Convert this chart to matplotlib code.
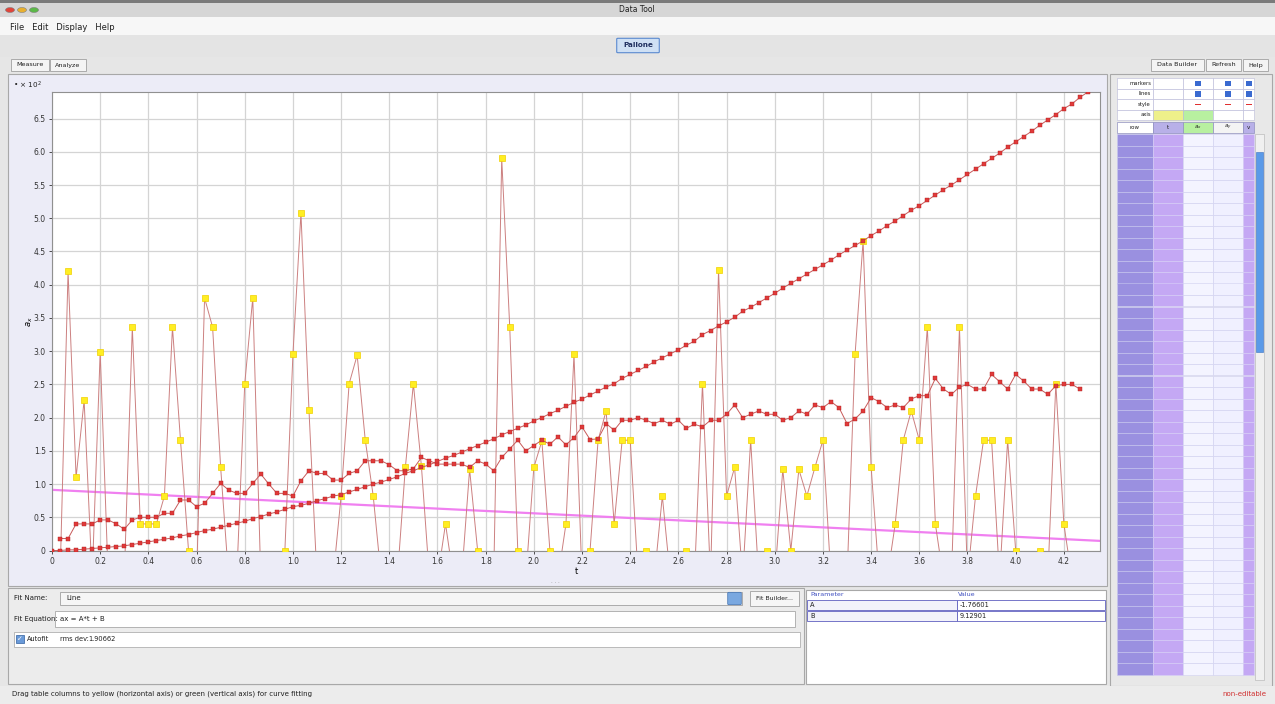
import numpy as np
import matplotlib
matplotlib.use("Agg")
import matplotlib.pyplot as plt
from matplotlib.patches import Rectangle, Circle, FancyBboxPatch

# ---------------- data ----------------
frame_rate = 30.0

# spiky raw series (yellow markers), frames 1..127
raw_start = 1
raw_vals = [-0.42, 4.20, 1.10, 2.26, -0.42, 2.99, -0.42, -0.42, -0.42, 3.36,
            0.40, 0.40, 0.40, 0.82, 3.36, 1.66, 0.00, -0.42, 3.80, 3.36,
            1.25, -0.42, -0.42, 2.51, 3.80, -0.42, -0.42, -0.42, 0.00, 2.95,
            5.08, 2.11, -0.42, -0.42, -0.42, 0.82, 2.51, 2.94, 1.67, 0.82,
            -0.42, -0.42, -0.42, 1.25, 2.51, 1.27, -0.42, -0.42, 0.40, -0.42,
            -0.42, 1.22, 0.00, -0.42, -0.42, 5.90, 3.36, 0.00, -0.42, 1.25,
            1.65, 0.00, -0.42, 0.40, 2.95, -0.42, 0.00, 1.66, 2.10, 0.40,
            1.66, 1.66, -0.42, 0.00, -0.42, 0.82, -0.42, -0.42, 0.00, -0.42,
            2.51, -0.42, 4.22, 0.82, 1.25, -0.42, 1.66, -0.42, 0.00, -0.42,
            1.22, 0.00, 1.22, 0.82, 1.25, 1.66, -0.42, -0.42, -0.42, 2.95,
            4.66, 1.25, -0.42, -0.42, 0.40, 1.66, 2.10, 1.66, 3.36, 0.40,
            -0.42, -0.42, 3.36, -0.42, 0.82, 1.66, 1.66, -0.42, 1.66, 0.00,
            -0.42, -0.42, 0.00, -0.42, 2.51, 0.40, -0.42]

# smoothed series (red markers), frames 1..128
smooth_start = 1
smooth_vals = [0.18, 0.18, 0.40, 0.40, 0.40, 0.46, 0.46, 0.40, 0.32, 0.46,
               0.50, 0.50, 0.50, 0.56, 0.56, 0.76, 0.76, 0.66, 0.71, 0.86,
               1.01, 0.91, 0.86, 0.86, 1.01, 1.15, 1.00, 0.86, 0.86, 0.82,
               1.05, 1.20, 1.16, 1.16, 1.06, 1.06, 1.16, 1.20, 1.35, 1.35,
               1.35, 1.29, 1.20, 1.20, 1.23, 1.40, 1.35, 1.30, 1.30, 1.30,
               1.30, 1.25, 1.35, 1.30, 1.20, 1.40, 1.53, 1.66, 1.50, 1.58,
               1.66, 1.60, 1.71, 1.59, 1.70, 1.86, 1.67, 1.68, 1.91, 1.81,
               1.96, 1.96, 2.00, 1.96, 1.91, 1.96, 1.90, 1.96, 1.84, 1.90,
               1.86, 1.96, 1.96, 2.05, 2.19, 2.00, 2.05, 2.10, 2.05, 2.05,
               1.96, 2.00, 2.10, 2.05, 2.19, 2.15, 2.24, 2.15, 1.91, 1.98,
               2.10, 2.30, 2.24, 2.15, 2.19, 2.15, 2.28, 2.33, 2.33, 2.59,
               2.43, 2.35, 2.46, 2.50, 2.43, 2.43, 2.65, 2.54, 2.43, 2.65,
               2.55, 2.43, 2.43, 2.35, 2.48, 2.50, 2.50, 2.43]

# curved series (red markers), frames 0..129
curve_start = 0
curve_vals = [0.00, 0.00, 0.01, 0.01, 0.02, 0.03, 0.04, 0.05, 0.06, 0.07,
              0.09, 0.11, 0.13, 0.15, 0.17, 0.19, 0.22, 0.24, 0.27, 0.30,
              0.32, 0.35, 0.38, 0.41, 0.44, 0.48, 0.51, 0.55, 0.58, 0.62,
              0.66, 0.68, 0.71, 0.75, 0.78, 0.82, 0.84, 0.88, 0.92, 0.96,
              1.00, 1.03, 1.07, 1.11, 1.16, 1.20, 1.25, 1.29, 1.34, 1.39,
              1.43, 1.48, 1.53, 1.58, 1.63, 1.68, 1.74, 1.79, 1.84, 1.89,
              1.95, 2.00, 2.06, 2.11, 2.17, 2.23, 2.28, 2.34, 2.40, 2.46,
              2.51, 2.59, 2.65, 2.71, 2.77, 2.84, 2.90, 2.96, 3.02, 3.09,
              3.15, 3.25, 3.31, 3.38, 3.44, 3.51, 3.60, 3.66, 3.73, 3.80,
              3.87, 3.95, 4.02, 4.09, 4.16, 4.23, 4.30, 4.37, 4.45, 4.52,
              4.59, 4.66, 4.74, 4.81, 4.89, 4.96, 5.04, 5.12, 5.19, 5.27,
              5.35, 5.43, 5.50, 5.58, 5.66, 5.74, 5.82, 5.90, 5.98, 6.07,
              6.15, 6.23, 6.31, 6.40, 6.48, 6.56, 6.65, 6.72, 6.82, 6.90]

# linear fit  ax = A*t + B  (plotted units)
fit_A = -0.1766
fit_B = 0.9129

xticks = [0, 0.2, 0.4, 0.6, 0.8, 1.0, 1.2, 1.4, 1.6, 1.8, 2.0, 2.2, 2.4, 2.6,
          2.8, 3.0, 3.2, 3.4, 3.6, 3.8, 4.0, 4.2]
yticks = [0, 0.5, 1.0, 1.5, 2.0, 2.5, 3.0, 3.5, 4.0, 4.5, 5.0, 5.5, 6.0, 6.5]

param_names = ["A", "B"]
param_values = ["-1.76601", "9.12901"]

# ---------------- figure ----------------
W, H = 1275, 704
fig = plt.figure(figsize=(W / 100, H / 100), dpi=100)
fig.patch.set_facecolor("#e6e6e6")
UI = dict(fontsize=5.5, color="#202020", family="DejaVu Sans")


def R(x0, y0, x1, y1, z=0.5, **kw):
    r = Rectangle((x0 / W, 1 - y1 / H), (x1 - x0) / W, (y1 - y0) / H,
                  transform=fig.transFigure, zorder=z, **kw)
    fig.add_artist(r)
    return r


def T(x, y, s, **kw):
    d = dict(UI)
    d.update(kw)
    return fig.text(x / W, 1 - y / H, s, va="center", zorder=3, **d)


# title bar
R(0, 0, W, 17, facecolor="#d6d6d6", edgecolor="none")
R(0, 0, W, 3, facecolor="#7a7a7a", edgecolor="none")
for cx, col in [(10, "#e0443a"), (22, "#e8b030"), (34, "#5cb848")]:
    fig.add_artist(Circle((cx / W, 1 - 10 / H), 4.5 / W, transform=fig.transFigure,
                          facecolor=col, edgecolor="#808080", lw=0.4, zorder=1))
T(637, 10, "Data Tool", ha="center", fontsize=5.5)
# menu bar
R(0, 17, W, 35, facecolor="#f7f7f7", edgecolor="none")
T(10, 27, "File   Edit   Display   Help", fontsize=6)
# toolbar
R(0, 35, W, 57, facecolor="#e4e4e4", edgecolor="none")
fig.add_artist(FancyBboxPatch((618 / W, 1 - 52 / H), 40 / W, 13 / H,
                              boxstyle="round,pad=0.001", transform=fig.transFigure,
                              facecolor="#cfe0f4", edgecolor="#5a8ad0", lw=0.8, zorder=1))
T(638, 45, "Pallone", ha="center", fontsize=5.2, weight="bold", color="#203060")
# tab buttons
for x0, x1, s in [(11, 49, "Measure"), (50, 86, "Analyze"),
                  (1151, 1204, "Data Builder"), (1206, 1241, "Refresh"),
                  (1243, 1268, "Help")]:
    R(x0, 59, x1, 71, facecolor="#f4f4f4", edgecolor="#a0a0a0", lw=0.6)
    T((x0 + x1) / 2, 65, s, ha="center", fontsize=4.6)

# main plot panel
R(8, 74, 1107, 586, z=0.2, facecolor="#ececf7", edgecolor="#a8a8a8", lw=0.8)
T(13, 85, "• × 10$^2$", fontsize=5.2)

# ---------------- axes ----------------
ax_l, ax_r, ax_t, ax_b = 52, 1100, 92, 550.5
ax = fig.add_axes([ax_l / W, 1 - ax_b / H, (ax_r - ax_l) / W, (ax_b - ax_t) / H])
ax.set_zorder(2)
ax.set_facecolor("white")
ax.set_xlim(0, 4.35)
ax.set_ylim(0, 6.9)
ax.set_xticks(xticks)
ax.set_yticks(yticks)
ax.set_xticklabels(["0" if v == 0 else f"{v:.1f}" for v in xticks])
ax.set_yticklabels(["0" if v == 0 else f"{v:.1f}" for v in yticks])
ax.tick_params(labelsize=5.5, length=2.5, width=0.6, colors="#333333", pad=2)
ax.grid(True, color="#d4d4d4", lw=0.9)
ax.set_axisbelow(True)
for sp in ax.spines.values():
    sp.set_color("#909090")
    sp.set_linewidth(0.8)
ax.set_xlabel("t", fontsize=6, labelpad=1)
ax.set_ylabel("$a_x$", fontsize=6, labelpad=-1)

t_raw = (raw_start + np.arange(len(raw_vals))) / frame_rate
t_smooth = (smooth_start + np.arange(len(smooth_vals))) / frame_rate
t_curve = (curve_start + np.arange(len(curve_vals))) / frame_rate

# fit line
tl = np.array([0, 4.35])
ax.plot(tl, fit_A * tl + fit_B, color="#f080f0", lw=1.6, zorder=2)

# raw spiky data
ax.plot(t_raw, raw_vals, color="#cc8080", lw=0.7, zorder=3)
ax.plot(t_raw, raw_vals, ls="none", marker="s", ms=3.8, mfc="#ffee22",
        mec="#f0d000", mew=0.5, zorder=4)

# smoothed data
ax.plot(t_smooth, smooth_vals, color="#c85a5a", lw=0.7, zorder=5,
        marker="s", ms=2.8, mfc="#e03a3a", mec="#b02020", mew=0.3)
# curve
ax.plot(t_curve, curve_vals, color="#c85a5a", lw=0.7, zorder=5,
        marker="s", ms=2.8, mfc="#e03a3a", mec="#b02020", mew=0.3)

# divider handle
T(555, 582, "· · ·", ha="center", fontsize=4, color="#888888")

# ---------------- fit panel ----------------
R(8, 588, 804, 684, facecolor="#ececec", edgecolor="#a8a8a8", lw=0.8)
T(14, 598, "Fit Name:", fontsize=5)
R(60, 592, 742, 605, facecolor="#f6f6f6", edgecolor="#a0a0a0", lw=0.6)
T(66, 598, "Line", fontsize=5)
fig.add_artist(FancyBboxPatch((729 / W, 1 - 604 / H), 11 / W, 11 / H,
                              boxstyle="round,pad=0.001", transform=fig.transFigure,
                              facecolor="#7aa8e0", edgecolor="#4070b0", lw=0.5, zorder=1))
R(750, 591, 799, 606, facecolor="#f6f6f6", edgecolor="#a0a0a0", lw=0.6)
T(774, 598, "Fit Builder...", ha="center", fontsize=4.5)
T(14, 619, "Fit Equation:", fontsize=5)
R(55, 611, 795, 627, facecolor="white", edgecolor="#a8a8a8", lw=0.6)
T(60, 619, "ax = A*t + B", fontsize=5)
R(14, 632, 800, 647, facecolor="white", edgecolor="#b0b0b0", lw=0.6)
R(16, 635, 24, 643, z=1, facecolor="#6a9ad8", edgecolor="#3060a0", lw=0.5)
T(20, 639, "✓", ha="center", fontsize=5, color="white", weight="bold")
T(27, 639, "Autofit", fontsize=4.8)
T(60, 639, "rms dev:", fontsize=4.8)
T(88, 639, "1.90662", fontsize=4.8)

# parameter table
R(806, 590, 1106, 684, facecolor="white", edgecolor="#a8a8a8", lw=0.8)
T(810, 595, "Parameter", fontsize=4.6, color="#4050c0")
T(958, 595, "Value", fontsize=4.6, color="#4050c0")
for i, (pn, pv) in enumerate(zip(param_names, param_values)):
    y0 = 600 + i * 11
    R(807, y0, 957, y0 + 10, z=1, facecolor="#f2f2fa", edgecolor="#6060c0", lw=0.6)
    R(957, y0, 1105, y0 + 10, z=1, facecolor="white", edgecolor="#6060c0", lw=0.6)
    T(810, y0 + 5, pn, fontsize=4.8)
    T(960, y0 + 5, pv, fontsize=4.8)

# ---------------- data table on the right ----------------
R(1110, 74, 1272, 686, z=0.2, facecolor="#e8e8e8", edgecolor="#a8a8a8", lw=0.8)
cols = [1117, 1153, 1183, 1213, 1243, 1254]
head = ["markers", "lines", "style", "axis"]
for i, h in enumerate(head):
    y0 = 78 + i * 10.5
    R(1117, y0, 1153, y0 + 10.5, facecolor="white", edgecolor="#b8b8d8", lw=0.4)
    T(1151, y0 + 5.2, h, ha="right", fontsize=3.8)
    for j in range(1, 5):
        fc = "white"
        if i == 3 and j == 1:
            fc = "#eef08a"
        elif i == 3 and j == 2:
            fc = "#b8f0a0"
        R(cols[j], y0, cols[j + 1], y0 + 10.5, facecolor=fc, edgecolor="#b8b8d8", lw=0.4)
        if i in (0, 1) and j >= 2:
            R((cols[j] + cols[j + 1]) / 2 - 3, y0 + 2.5, (cols[j] + cols[j + 1]) / 2 + 3,
              y0 + 8, z=1, facecolor="#3a6ad0", edgecolor="none")
        if i == 2 and j >= 2:
            R((cols[j] + cols[j + 1]) / 2 - 3, y0 + 4.5, (cols[j] + cols[j + 1]) / 2 + 3,
              y0 + 6, z=1, facecolor="#e03030", edgecolor="none")
# column header
hdr = ["row", "t", "$a_x$", "$a_y$", "v"]
hfc = ["white", "#b8b0e8", "#b8f0a0", "#f4f4f4", "#b8b0e8"]
for j in range(5):
    R(cols[j], 122, cols[j + 1], 133, facecolor=hfc[j], edgecolor="#9090c0", lw=0.5)
    T((cols[j] + cols[j + 1]) / 2, 127.5, hdr[j], ha="center", fontsize=4)
# rows
y = 134
row_h = 11.5
while y + row_h <= 680:
    R(1117, y, 1153, y + row_h, facecolor="#9a90e0", edgecolor="#c8c8f0", lw=0.4)
    R(1153, y, 1183, y + row_h, facecolor="#c4a8f4", edgecolor="#d8d0f8", lw=0.4)
    R(1183, y, 1213, y + row_h, facecolor="#f4f4ff", edgecolor="#d0d0f0", lw=0.4)
    R(1213, y, 1243, y + row_h, facecolor="#f0f0ff", edgecolor="#d0d0f0", lw=0.4)
    R(1243, y, 1254, y + row_h, facecolor="#c4a8f4", edgecolor="#d8d0f8", lw=0.4)
    y += row_h
R(1255, 134, 1264, 680, facecolor="#f0f0f0", edgecolor="#b0b0b0", lw=0.4)
R(1256, 152, 1263, 352, z=1, facecolor="#5a9ae8", edgecolor="#3a70c0", lw=0.4)

# status bar
R(0, 686, W, H, facecolor="#ececec", edgecolor="none")
T(12, 694, "Drag table columns to yellow (horizontal axis) or green (vertical axis) for curve fitting",
  fontsize=5)
T(1266, 694, "non-editable", ha="right", fontsize=5, color="#d03030")

fig.savefig("out.png", dpi=100, facecolor=fig.get_facecolor())
